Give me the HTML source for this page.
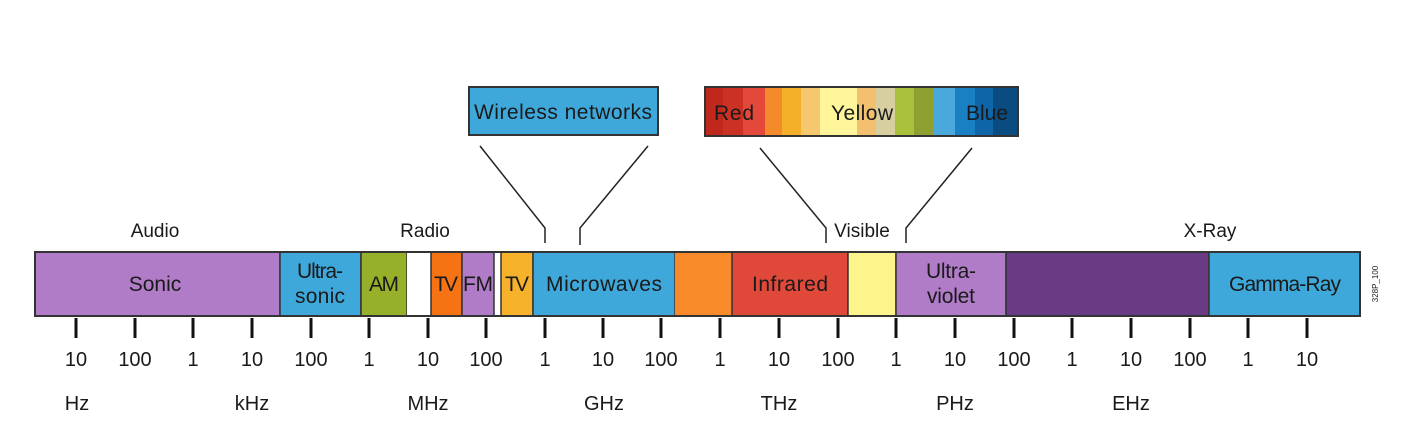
<!DOCTYPE html>
<html><head><meta charset="utf-8"><style>
html,body{margin:0;padding:0;background:#fff;}
svg{display:block;}
text{font-family:"Liberation Sans",sans-serif;fill:#1a1a1a;}
</style></head><body>
<svg width="1408" height="444" viewBox="0 0 1408 444" xmlns="http://www.w3.org/2000/svg">
<g stroke="#333" stroke-width="1.5">
<rect x="35" y="252" width="245" height="64" fill="#b07cc8"/>
<rect x="280" y="252" width="81" height="64" fill="#3ea8da"/>
<rect x="361" y="252" width="46" height="64" fill="#96b02a"/>
<rect x="407" y="252" width="24" height="64" fill="#ffffff" stroke="none"/>
<rect x="431" y="252" width="31" height="64" fill="#f57312"/>
<rect x="462" y="252" width="32" height="64" fill="#b07cc8"/>
<rect x="501" y="252" width="32" height="64" fill="#f5b22a"/>
<rect x="533" y="252" width="142" height="64" fill="#3ea8da"/>
<rect x="675" y="252" width="57" height="64" fill="#f88a2a" stroke="none"/>
<rect x="732" y="252" width="116" height="64" fill="#e0483a"/>
<rect x="848" y="252" width="48" height="64" fill="#fdf48c"/>
<rect x="896" y="252" width="110" height="64" fill="#b07cc8"/>
<rect x="1006" y="252" width="203" height="64" fill="#6a3a84"/>
<rect x="1209" y="252" width="151" height="64" fill="#3ea8da"/>
<rect x="35" y="252" width="1325" height="64" fill="none" stroke="#333" stroke-width="2"/>
</g>
<g font-size="21" text-anchor="middle">
<text x="155" y="291">Sonic</text>
<text x="320" y="278" textLength="46">Ultra-</text><text x="320" y="303" textLength="50">sonic</text>
<text x="384" y="291" textLength="30">AM</text>
<text x="446" y="291" textLength="24">TV</text>
<text x="478" y="291" textLength="30">FM</text>
<text x="517" y="291" textLength="24">TV</text>
<text x="604" y="291" textLength="116">Microwaves</text>
<text x="790" y="291" textLength="76">Infrared</text>
<text x="951" y="278" textLength="50">Ultra-</text><text x="951" y="303" textLength="48">violet</text>
<text x="1285" y="291" textLength="112">Gamma-Ray</text>
</g>
<g font-size="19" text-anchor="middle">
<text x="155" y="237">Audio</text>
<text x="425" y="237">Radio</text>
<text x="862" y="237">Visible</text>
<text x="1210" y="237">X-Ray</text>
</g>
<text x="1378" y="284" font-size="8" text-anchor="middle" transform="rotate(-90 1378 284)" fill="#555">328P_100</text>
<g stroke="#111" stroke-width="3">
<line x1="76" y1="318" x2="76" y2="338"/><line x1="135" y1="318" x2="135" y2="338"/><line x1="193" y1="318" x2="193" y2="338"/><line x1="252" y1="318" x2="252" y2="338"/><line x1="311" y1="318" x2="311" y2="338"/><line x1="369" y1="318" x2="369" y2="338"/><line x1="428" y1="318" x2="428" y2="338"/><line x1="486" y1="318" x2="486" y2="338"/><line x1="545" y1="318" x2="545" y2="338"/><line x1="603" y1="318" x2="603" y2="338"/><line x1="661" y1="318" x2="661" y2="338"/><line x1="720" y1="318" x2="720" y2="338"/><line x1="779" y1="318" x2="779" y2="338"/><line x1="838" y1="318" x2="838" y2="338"/><line x1="896" y1="318" x2="896" y2="338"/><line x1="955" y1="318" x2="955" y2="338"/><line x1="1014" y1="318" x2="1014" y2="338"/><line x1="1072" y1="318" x2="1072" y2="338"/><line x1="1131" y1="318" x2="1131" y2="338"/><line x1="1190" y1="318" x2="1190" y2="338"/><line x1="1248" y1="318" x2="1248" y2="338"/><line x1="1307" y1="318" x2="1307" y2="338"/>
</g>
<g font-size="20" text-anchor="middle">
<text x="76" y="366">10</text><text x="135" y="366">100</text><text x="193" y="366">1</text><text x="252" y="366">10</text><text x="311" y="366">100</text><text x="369" y="366">1</text><text x="428" y="366">10</text><text x="486" y="366">100</text><text x="545" y="366">1</text><text x="603" y="366">10</text><text x="661" y="366">100</text><text x="720" y="366">1</text><text x="779" y="366">10</text><text x="838" y="366">100</text><text x="896" y="366">1</text><text x="955" y="366">10</text><text x="1014" y="366">100</text><text x="1072" y="366">1</text><text x="1131" y="366">10</text><text x="1190" y="366">100</text><text x="1248" y="366">1</text><text x="1307" y="366">10</text>
<text x="77" y="410">Hz</text><text x="252" y="410">kHz</text><text x="428" y="410">MHz</text><text x="604" y="410">GHz</text><text x="779" y="410">THz</text><text x="955" y="410">PHz</text><text x="1131" y="410">EHz</text>
</g>
<g stroke="#222" stroke-width="1.5" fill="none">
<polyline points="480,146 545,228 545,243"/>
<polyline points="648,146 580,228 580,245"/>
<polyline points="760,148 826,228 826,243"/>
<polyline points="972,148 906,228 906,243"/>
</g>
<rect x="469" y="87" width="189" height="48" fill="#3ea8da" stroke="#333" stroke-width="2"/>
<text x="563" y="119" font-size="21" text-anchor="middle" textLength="178">Wireless networks</text>
<g>
<rect x="705" y="87" width="18" height="49" fill="#c0281e"/>
<rect x="723" y="87" width="20" height="49" fill="#cc3224"/>
<rect x="743" y="87" width="22" height="49" fill="#e4483a"/>
<rect x="765" y="87" width="17" height="49" fill="#f58a2a"/>
<rect x="782" y="87" width="19" height="49" fill="#f5b02a"/>
<rect x="801" y="87" width="19" height="49" fill="#f5c870"/>
<rect x="820" y="87" width="37" height="49" fill="#fff59a"/>
<rect x="857" y="87" width="19" height="49" fill="#f3c070"/>
<rect x="876" y="87" width="19" height="49" fill="#d8cfa0"/>
<rect x="895" y="87" width="19" height="49" fill="#a8c03a"/>
<rect x="914" y="87" width="19" height="49" fill="#8ea030"/>
<rect x="933" y="87" width="22" height="49" fill="#4aa8dc"/>
<rect x="955" y="87" width="20" height="49" fill="#1a80c4"/>
<rect x="975" y="87" width="18" height="49" fill="#0e66a8"/>
<rect x="993" y="87" width="25" height="49" fill="#0a4c80"/>
<rect x="705" y="87" width="313" height="49" fill="none" stroke="#333" stroke-width="2"/>
</g>
<g font-size="21" text-anchor="middle">
<text x="734" y="120" textLength="40">Red</text>
<text x="862" y="120" textLength="62">Yellow</text>
<text x="987" y="120" textLength="42">Blue</text>
</g>
</svg>
</body></html>
